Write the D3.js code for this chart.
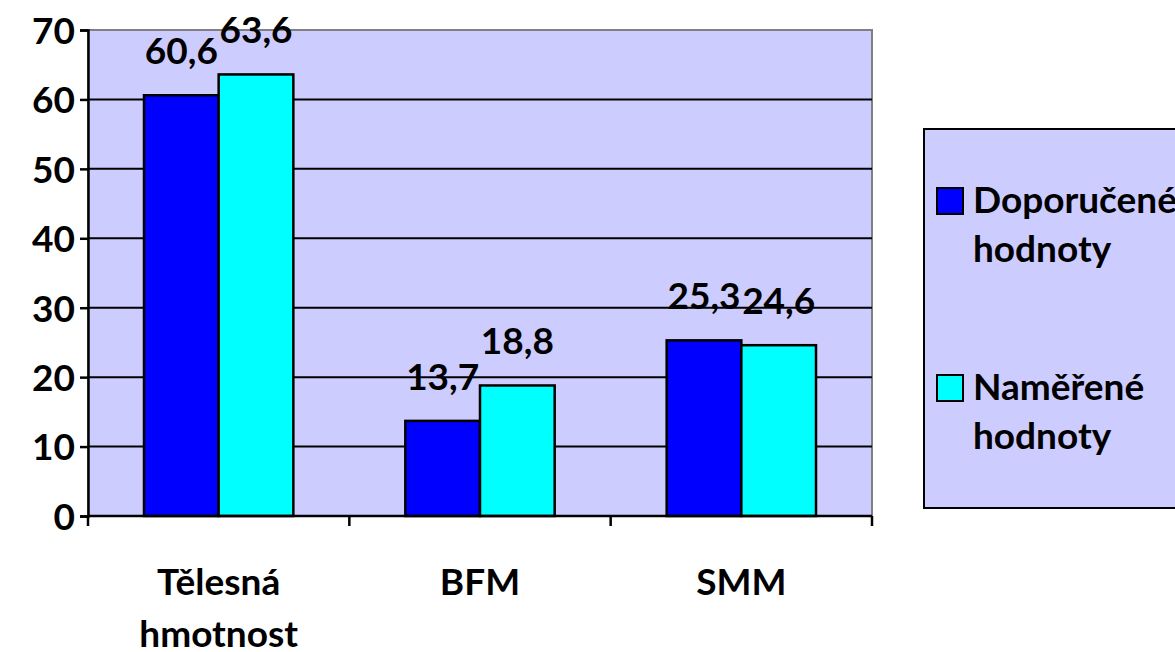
<!DOCTYPE html>
<meta charset="utf-8">
<style>
body { margin: 0; background: #fff; }
text { font-family: Lato, "Open Sans", sans-serif; font-weight: 700; fill: #000; }
</style>
<body>
<script src="https://cdn.jsdelivr.net/npm/d3@7"></script>
<script>

var categories = [["Tělesná", "hmotnost"], ["BFM"], ["SMM"]],
    seriesNames = [["Doporučené", "hodnoty"], ["Naměřené", "hodnoty"]],
    doporucene = [60.6, 13.7, 25.3],
    namerene = [63.6, 18.8, 24.6],
    yTicks = [0, 10, 20, 30, 40, 50, 60, 70];

var colors = ["#0000ff", "#00ffff"];

var w = 1175, h = 652,
    plotLeft = 88, plotRight = 872, plotTop = 30, plotBottom = 516,
    fontSize = "37px";

var svg = d3.select("body").append("svg")
    .attr("width", w)
    .attr("height", h);

var x = d3.scaleBand()
    .domain(d3.range(categories.length))
    .range([plotLeft, plotRight]);

var x1 = d3.scaleBand()
    .domain([0, 1])
    .range([0, x.bandwidth()])
    .paddingInner(0)
    .paddingOuter(0.75);

var y = d3.scaleLinear()
    .domain([0, 70])
    .range([plotBottom, plotTop]);

// plot area
svg.append("rect")
    .attr("x", plotLeft)
    .attr("y", plotTop)
    .attr("width", plotRight - plotLeft)
    .attr("height", plotBottom - plotTop)
    .attr("fill", "#ccccff")
    .attr("stroke", "#808080")
    .attr("stroke-width", 2);

// gridlines
svg.append("g").selectAll("line")
    .data(yTicks.filter(function(d) { return d > 0 && d < 70; }))
  .enter().append("line")
    .attr("x1", plotLeft)
    .attr("x2", plotRight)
    .attr("y1", function(d) { return y(d); })
    .attr("y2", function(d) { return y(d); })
    .attr("stroke", "#000")
    .attr("stroke-width", 2);

// bars
var data = categories.map(function(c, i) {
  return [doporucene[i], namerene[i]];
});

var groups = svg.append("g").selectAll("g")
    .data(data)
  .enter().append("g")
    .attr("transform", function(d, i) { return "translate(" + x(i) + ",0)"; });

groups.selectAll("rect")
    .data(function(d) { return d; })
  .enter().append("rect")
    .attr("x", function(d, j) { return x1(j); })
    .attr("y", function(d) { return y(d); })
    .attr("width", x1.bandwidth())
    .attr("height", function(d) { return plotBottom - y(d); })
    .attr("fill", function(d, j) { return colors[j]; })
    .attr("stroke", "#000")
    .attr("stroke-width", 2.5);

groups.selectAll("text")
    .data(function(d) { return d; })
  .enter().append("text")
    .attr("x", function(d, j) { return x1(j) + x1.bandwidth() / 2; })
    .attr("y", function(d) { return y(d) - 31; })
    .attr("text-anchor", "middle")
    .style("font-size", fontSize)
    .text(function(d) { return String(d).replace(".", ","); });

// y axis
var yAxis = d3.axisLeft(y)
    .tickValues(yTicks)
    .tickSize(8)
    .tickFormat(d3.format("d"));

svg.append("g")
    .attr("transform", "translate(" + plotLeft + ",0)")
    .call(yAxis)
    .call(function(g) {
      g.select(".domain").attr("stroke", "#000").attr("stroke-width", 2.5);
      g.selectAll(".tick line").attr("stroke", "#000").attr("stroke-width", 2.5);
      g.selectAll(".tick text")
          .attr("x", -13)
          .attr("dy", "0.36em")
          .style("font-size", fontSize)
          .style("font-family", "Lato, sans-serif")
          .style("font-weight", 700)
          .attr("fill", "#000");
    });

// x axis
svg.append("line")
    .attr("x1", plotLeft)
    .attr("x2", plotRight)
    .attr("y1", plotBottom)
    .attr("y2", plotBottom)
    .attr("stroke", "#000")
    .attr("stroke-width", 2.5);

svg.append("g").selectAll("line")
    .data(d3.range(categories.length + 1))
  .enter().append("line")
    .attr("x1", function(i) { return plotLeft + i * x.step(); })
    .attr("x2", function(i) { return plotLeft + i * x.step(); })
    .attr("y1", plotBottom)
    .attr("y2", plotBottom + 10)
    .attr("stroke", "#000")
    .attr("stroke-width", 2.5);

svg.append("g").selectAll("text")
    .data(categories)
  .enter().append("text")
    .attr("text-anchor", "middle")
    .attr("x", function(d, i) { return x(i) + x.bandwidth() / 2; })
    .attr("y", 595)
    .style("font-size", fontSize)
    .each(function(d) {
      var t = d3.select(this);
      d.forEach(function(line, k) {
        t.append("tspan")
            .attr("x", t.attr("x"))
            .attr("dy", k === 0 ? 0 : 52)
            .text(line);
      });
    });

// legend
var legend = svg.append("g");

legend.append("rect")
    .attr("x", 924)
    .attr("y", 129)
    .attr("width", 270)
    .attr("height", 379)
    .attr("fill", "#ccccff")
    .attr("stroke", "#000")
    .attr("stroke-width", 2);

var item = legend.selectAll("g")
    .data(seriesNames)
  .enter().append("g")
    .attr("transform", function(d, i) { return "translate(0," + (i * 187) + ")"; });

item.append("rect")
    .attr("x", 937)
    .attr("y", 188)
    .attr("width", 26)
    .attr("height", 26)
    .attr("fill", function(d, i) { return colors[i]; })
    .attr("stroke", "#000")
    .attr("stroke-width", 2);

item.append("text")
    .attr("x", 973)
    .attr("y", 213)
    .style("font-size", fontSize)
    .each(function(d) {
      var t = d3.select(this);
      d.forEach(function(line, k) {
        t.append("tspan")
            .attr("x", 973)
            .attr("dy", k === 0 ? 0 : 49)
            .text(line);
      });
    });

</script>
</body>
